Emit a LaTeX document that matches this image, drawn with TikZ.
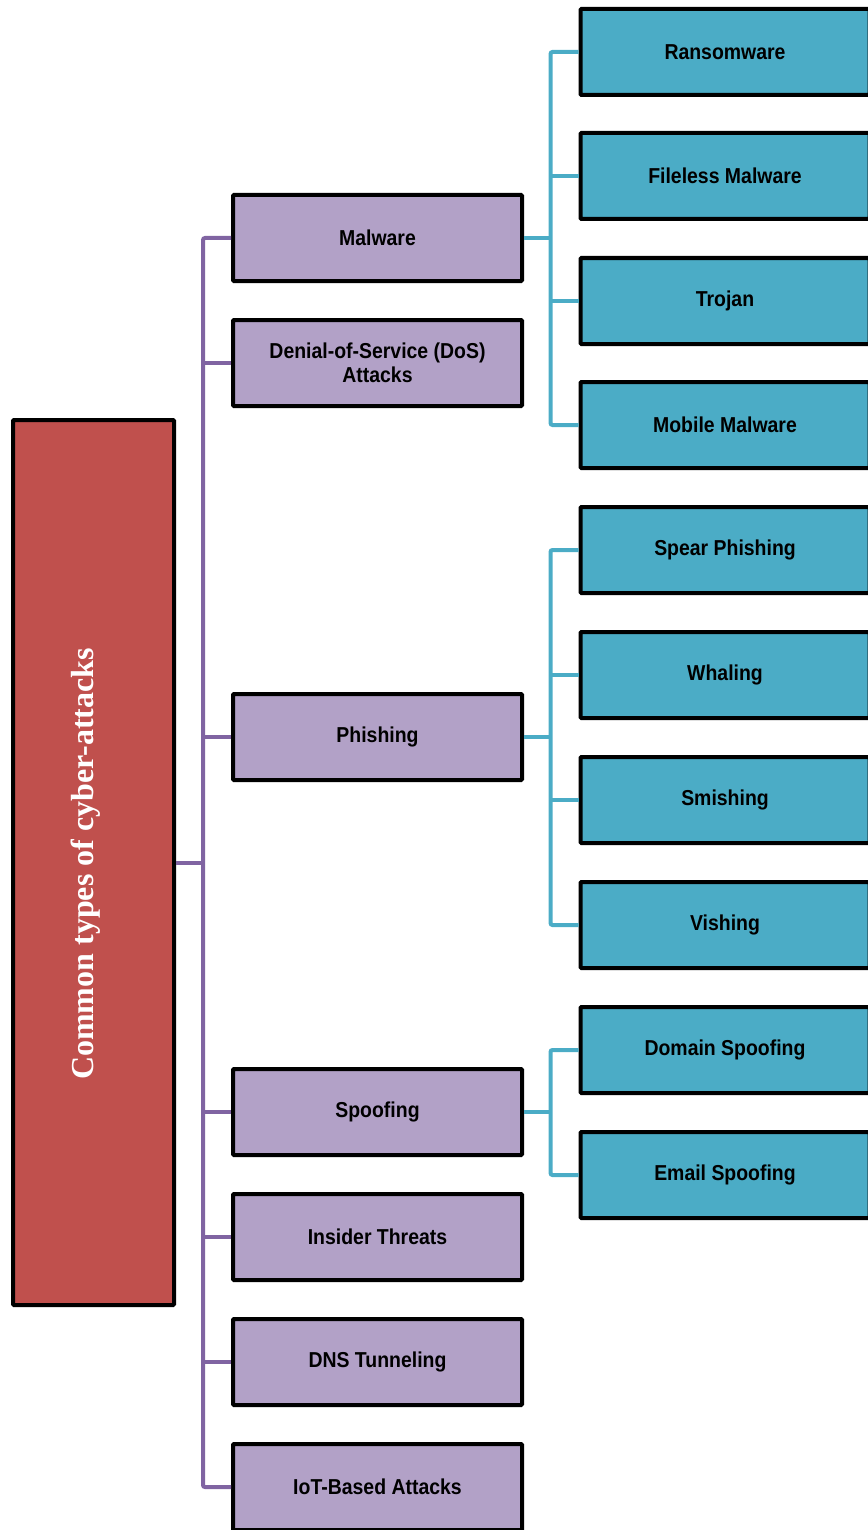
\documentclass[tikz,border=0pt]{standalone}
\usepackage{fontspec}
\setmainfont[FakeStretch=0.90]{Liberation Sans}
\newfontfamily\rootfont{Liberation Serif}
\definecolor{rootred}{HTML}{C0504D}
\definecolor{midpurple}{HTML}{B2A1C7}
\definecolor{leafteal}{HTML}{4BACC6}
\definecolor{plinec}{HTML}{8064A2}
\begin{document}
\begin{tikzpicture}[x=1pt,y=-1pt,
  box/.style={draw=black,line width=4pt,rounded corners=1pt,minimum width=289pt,minimum height=86pt,inner sep=2pt,align=center,font=\fontsize{21.6}{24}\selectfont\bfseries,text=black},
  midbox/.style={box,fill=midpurple},
  leafbox/.style={box,fill=leafteal},
  pline/.style={draw=plinec,line width=4pt,rounded corners=2pt},
  tline/.style={draw=leafteal,line width=4pt,rounded corners=2pt}]
\useasboundingbox (0,0) rectangle (867,1530);
\node[draw=black,line width=4pt,rounded corners=1pt,fill=rootred,minimum width=161pt,minimum height=885pt,inner sep=0pt] (root) at (93.5,862.5) {};
\node[rotate=90,text=white,font=\rootfont\fontsize{32}{36}\selectfont\bfseries] (roottext) at (86,864) {Common types of cyber-attacks};
% middle
\node[midbox] (malware) at (377.5,238) {Malware};
\node[midbox] (dos) at (377.5,363) {Denial-of-Service (DoS)\\Attacks};
\node[midbox] (phishing) at (377.5,737) {Phishing};
\node[midbox] (spoofing) at (377.5,1112) {Spoofing};
\node[midbox] (insider) at (377.5,1237) {Insider Threats};
\node[midbox] (dns) at (377.5,1362) {DNS Tunneling};
\node[midbox] (iot) at (377.5,1487) {IoT-Based Attacks};
% leaves
\node[leafbox] (ransom) at (725,52) {Ransomware};
\node[leafbox] (fileless) at (725,176) {Fileless Malware};
\node[leafbox] (trojan) at (725,301) {Trojan};
\node[leafbox] (mobile) at (725,425) {Mobile Malware};
\node[leafbox] (spear) at (725,550) {Spear Phishing};
\node[leafbox] (whaling) at (725,675) {Whaling};
\node[leafbox] (smishing) at (725,800) {Smishing};
\node[leafbox] (vishing) at (725,925) {Vishing};
\node[leafbox] (domain) at (725,1050) {Domain Spoofing};
\node[leafbox] (email) at (725,1175) {Email Spoofing};
% purple connectors
\draw[pline] (malware.west) -- ++(-28,0) |- (iot.west);
\foreach \n in {dos,phishing,spoofing,insider,dns}
  \draw[pline] (\n.west) -- ++(-28,0);
\draw[pline] (root.east) -- ++(28,0);
% teal connectors
\draw[tline] (ransom.west) -- ++(-28,0) |- (mobile.west);
\draw[tline] (fileless.west) -- ++(-28,0);
\draw[tline] (trojan.west) -- ++(-28,0);
\draw[tline] (malware.east) -- ++(28,0);
\draw[tline] (spear.west) -- ++(-28,0) |- (vishing.west);
\draw[tline] (whaling.west) -- ++(-28,0);
\draw[tline] (smishing.west) -- ++(-28,0);
\draw[tline] (phishing.east) -- ++(28,0);
\draw[tline] (domain.west) -- ++(-28,0) |- (email.west);
\draw[tline] (spoofing.east) -- ++(28,0);
\end{tikzpicture}
\end{document}
